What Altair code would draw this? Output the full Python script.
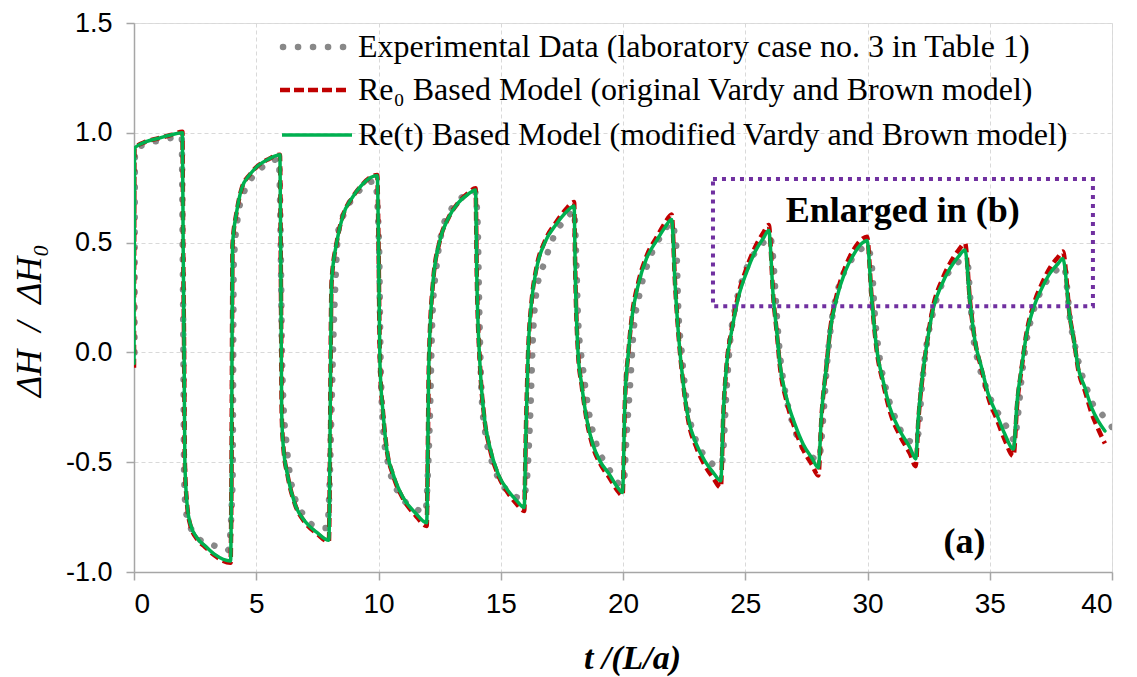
import altair as alt
import pandas as pd

# ---------------- data ----------------
# time axis t/(L/a) shared by the two model curves
T_MODEL = [
    0.0, 0.02, 0.5, 1.0, 1.5, 1.98,
    2.01, 2.05, 2.08, 2.17, 2.3, 2.58, 2.9, 3.3, 3.95,
    3.99, 4.03, 4.2, 4.4, 4.74, 5.07, 5.5, 5.97,
    6.01, 6.04, 6.1, 6.3, 6.58, 7.0, 7.48, 7.97,
    8.08, 8.29, 8.55, 8.9, 9.3, 9.95,
    10.0, 10.06, 10.19, 10.33, 10.6, 11.0, 11.5, 11.97,
    12.06, 12.23, 12.5, 12.85, 13.25, 13.66, 13.97,
    14.02, 14.15, 14.31, 14.56, 14.9, 15.3, 15.65, 15.96,
    16.02, 16.12, 16.26, 16.46, 16.8, 17.28, 17.69, 18.0,
    18.05, 18.16, 18.31, 18.51, 18.77, 19.06, 19.47, 19.78, 19.98,
    20.08, 20.22, 20.36, 20.63, 20.97, 21.38, 21.72, 21.99,
    22.13, 22.27, 22.47, 22.67, 23.01, 23.35, 23.69, 24.0,
    24.1, 24.24, 24.44, 24.71, 25.06, 25.4, 25.74, 25.96,
    26.15, 26.29, 26.42, 26.69, 27.03, 27.37, 27.72, 27.99,
    28.12, 28.33, 28.47, 28.74, 29.08, 29.42, 29.76, 29.98,
    30.17, 30.37, 30.64, 30.92, 31.33, 31.74, 31.97,
    32.08, 32.29, 32.49, 32.69, 33.03, 33.37, 33.72, 33.99,
    34.19, 34.4, 34.67, 34.94, 35.29, 35.62, 35.97,
    36.12, 36.3, 36.5, 36.78, 37.12, 37.46, 37.8, 37.99,
    38.28, 38.45, 38.62, 38.9, 39.17, 39.44, 39.71,
]

# Re0 based model (original Vardy and Brown model) - red dashed
H_RE0 = [
    -0.07, 0.93, 0.96, 0.975, 0.99, 1.005,
    0.5, 0.0, -0.5, -0.69, -0.785, -0.85, -0.885, -0.925, -0.958,
    -0.5, 0.49, 0.64, 0.745, 0.81, 0.85, 0.88, 0.9,
    0.3, -0.27, -0.42, -0.57, -0.69, -0.775, -0.825, -0.862,
    0.32, 0.50, 0.625, 0.70, 0.76, 0.808,
    0.5, -0.055, -0.28, -0.435, -0.56, -0.665, -0.74, -0.79,
    -0.055, 0.32, 0.505, 0.61, 0.68, 0.725, 0.748,
    0.35, -0.055, -0.28, -0.44, -0.56, -0.64, -0.69, -0.722,
    -0.4, 0.0, 0.23, 0.385, 0.505, 0.595, 0.655, 0.685,
    0.35, 0.0, -0.15, -0.305, -0.43, -0.505, -0.575, -0.63, -0.652,
    -0.22, 0.0, 0.16, 0.32, 0.44, 0.525, 0.59, 0.628,
    0.31, 0.08, -0.15, -0.31, -0.435, -0.515, -0.572, -0.615,
    -0.29, -0.055, 0.1, 0.258, 0.385, 0.478, 0.545, 0.58,
    0.246, 0.09, -0.065, -0.222, -0.348, -0.443, -0.51, -0.56,
    -0.29, -0.055, 0.1, 0.26, 0.385, 0.465, 0.515, 0.527,
    0.246, 0.015, -0.14, -0.27, -0.38, -0.462, -0.518,
    -0.31, -0.075, 0.085, 0.212, 0.325, 0.405, 0.465, 0.497,
    0.235, 0.05, -0.078, -0.205, -0.305, -0.4, -0.472,
    -0.235, -0.075, 0.085, 0.212, 0.31, 0.385, 0.435, 0.46,
    0.16, 0.05, -0.078, -0.178, -0.278, -0.35, -0.415,
]

# Re(t) based model (modified Vardy and Brown model) - green solid
H_RET = [
    -0.05, 0.93, 0.96, 0.975, 0.99, 1.0,
    0.5, 0.0, -0.5, -0.69, -0.78, -0.845, -0.88, -0.92, -0.95,
    -0.5, 0.49, 0.64, 0.745, 0.81, 0.85, 0.88, 0.9,
    0.3, -0.27, -0.42, -0.57, -0.69, -0.77, -0.82, -0.855,
    0.32, 0.50, 0.625, 0.70, 0.76, 0.805,
    0.5, -0.055, -0.28, -0.435, -0.555, -0.66, -0.73, -0.776,
    -0.055, 0.32, 0.505, 0.61, 0.68, 0.72, 0.74,
    0.35, -0.055, -0.28, -0.434, -0.555, -0.63, -0.675, -0.706,
    -0.4, 0.0, 0.23, 0.38, 0.50, 0.585, 0.64, 0.667,
    0.35, 0.0, -0.147, -0.30, -0.42, -0.495, -0.56, -0.615, -0.638,
    -0.22, 0.0, 0.155, 0.31, 0.43, 0.51, 0.57, 0.605,
    0.31, 0.08, -0.147, -0.30, -0.42, -0.495, -0.547, -0.585,
    -0.28, -0.055, 0.095, 0.246, 0.367, 0.458, 0.52, 0.555,
    0.246, 0.095, -0.055, -0.207, -0.327, -0.418, -0.48, -0.525,
    -0.28, -0.055, 0.095, 0.246, 0.367, 0.443, 0.496, 0.51,
    0.246, 0.02, -0.13, -0.253, -0.358, -0.434, -0.485,
    -0.298, -0.071, 0.08, 0.2, 0.307, 0.382, 0.436, 0.466,
    0.231, 0.05, -0.071, -0.19, -0.283, -0.373, -0.44,
    -0.222, -0.071, 0.08, 0.2, 0.29, 0.36, 0.405, 0.428,
    0.155, 0.05, -0.071, -0.162, -0.253, -0.313, -0.358,
]

# experimental data (laboratory case no. 3) - grey dots
T_EXP = [
    0.02, 0.04, 0.5, 1.06, 1.68, 1.95,
    1.99, 2.02, 2.05, 2.12, 2.29, 2.6, 3.2, 3.85,
    4.03, 4.08, 4.25, 4.5, 4.85, 5.2, 5.6, 5.92,
    6.0, 6.05, 6.1, 6.24, 6.5, 7.0, 7.47, 7.9,
    8.0, 8.08, 8.15, 8.25, 8.35, 8.63, 9.16, 9.86,
    10.02, 10.08, 10.2, 10.4, 10.95, 11.5, 11.92,
    12.02, 12.1, 12.2, 12.38, 12.59, 12.99, 13.54, 13.95,
    14.05, 14.12, 14.22, 14.36, 14.63, 14.97, 15.5, 15.9,
    16.05, 16.2, 16.32, 16.46, 16.8, 17.2, 17.75, 18.0,
    18.1, 18.16, 18.36, 18.65, 18.92, 19.4, 19.9,
    20.02, 20.15, 20.29, 20.42, 20.7, 21.1, 21.58, 22.0,
    22.1, 22.19, 22.25, 22.4, 22.6, 22.95, 23.42, 23.9,
    24.05, 24.24, 24.38, 24.58, 24.85, 25.26, 25.67, 26.0,
    26.14, 26.29, 26.42, 26.63, 26.95, 27.36, 27.77, 28.0,
    28.2, 28.33, 28.53, 28.8, 29.22, 29.62, 29.98,
    30.17, 30.3, 30.5, 30.78, 31.19, 31.6, 31.95,
    32.08, 32.22, 32.42, 32.69, 33.03, 33.44, 33.92,
    34.1, 34.19, 34.32, 34.52, 34.81, 35.14, 35.55, 35.85,
    36.0, 36.16, 36.3, 36.5, 36.78, 37.19, 37.6, 37.95,
    38.05, 38.15, 38.28, 38.48, 38.69, 38.96, 39.23, 39.5, 39.85, 40.0,
]
H_EXP = [
    0.0, 0.92, 0.95, 0.965, 0.98, 0.985,
    0.5, 0.0, -0.55, -0.72, -0.79, -0.845, -0.876, -0.9,
    -0.6, 0.4, 0.62, 0.73, 0.8, 0.84, 0.87, 0.88,
    0.5, 0.0, -0.2, -0.42, -0.63, -0.75, -0.795, -0.8,
    -0.6, -0.25, 0.05, 0.35, 0.55, 0.64, 0.73, 0.78,
    0.5, 0.0, -0.36, -0.51, -0.66, -0.71, -0.73,
    -0.55, -0.3, 0.15, 0.4, 0.55, 0.655, 0.715, 0.73,
    0.6, 0.2, -0.2, -0.36, -0.495, -0.585, -0.65, -0.665,
    -0.6, -0.3, 0.08, 0.277, 0.413, 0.535, 0.617, 0.645,
    0.38, 0.155, -0.07, -0.3, -0.42, -0.525, -0.6,
    -0.6, -0.37, -0.147, 0.08, 0.277, 0.43, 0.535, 0.59,
    0.55, 0.46, 0.23, 0.0, -0.22, -0.39, -0.48, -0.52,
    -0.5, -0.162, 0.05, 0.2, 0.32, 0.43, 0.49, 0.53,
    0.43, 0.17, -0.01, -0.177, -0.327, -0.434, -0.48, -0.49,
    -0.28, -0.071, 0.14, 0.29, 0.4, 0.458, 0.485,
    0.4, 0.17, -0.026, -0.177, -0.313, -0.396, -0.41,
    -0.37, -0.16, 0.035, 0.186, 0.307, 0.382, 0.42,
    0.40, 0.262, 0.08, -0.04, -0.147, -0.238, -0.313, -0.37,
    -0.4, -0.28, -0.117, 0.05, 0.186, 0.3, 0.36, 0.39,
    0.39, 0.307, 0.155, 0.035, -0.07, -0.162, -0.238, -0.27, -0.32, -0.34,
]

X_TICKS = [0, 5, 10, 15, 20, 25, 30, 35, 40]
Y_TICKS = [-1.0, -0.5, 0.0, 0.5, 1.0, 1.5]

LEGEND_LABELS = [
    "Experimental Data (laboratory case no. 3 in Table 1)",
    "Re\u2080 Based Model (original Vardy and Brown model)",
    "Re(t) Based Model (modified Vardy and Brown model)",
]

BOX_T = [23.68, 39.22]
BOX_H = [0.21, 0.79]
NOTE_T = [31.44, 33.97]
NOTE_H = [0.642, -0.863]
NOTE_TEXT = ["Enlarged in (b)", "(a)"]

assert len(T_MODEL) == len(H_RE0) == len(H_RET)
assert len(T_EXP) == len(H_EXP)

# ---------------- chart ----------------
W, H = 978, 549
GREY_AX = "#A6A6A6"
SERIF = "Liberation Serif"
SANS = "Liberation Sans"
NB = "\u00a0"

xs = alt.Scale(domain=[0, 40], nice=False, zero=False)
ys = alt.Scale(domain=[-1.0, 1.5], nice=False, zero=False)

x_axis = alt.Axis(
    values=X_TICKS, format="d", title="t /(L/a)",
    grid=True, gridDash=[4, 3], gridColor="#D9D9D9", gridWidth=1,
    domainColor=GREY_AX, domainWidth=1.5, tickColor=GREY_AX, tickWidth=1.5, tickSize=8,
    labelFont=SANS, labelFontSize=28, labelColor="#000000", labelPadding=10,
    titleFont=SERIF, titleFontSize=34, titleFontStyle="italic", titleFontWeight="bold",
    titleColor="#000000", titleX=498, titleY=86, titleAlign="center", titleBaseline="middle",
)
y_axis = alt.Axis(
    values=Y_TICKS, title=f"\u0394H{NB}{NB}/{NB}{NB}\u0394H\u2080",
    labelExpr="replace(format(datum.value, '.1f'), '\u2212', '-')",
    grid=True, gridDash=[4, 3], gridColor="#D9D9D9", gridWidth=1,
    domainColor=GREY_AX, domainWidth=1.5, tickColor=GREY_AX, tickWidth=1.5, tickSize=8,
    labelFont=SANS, labelFontSize=27, labelColor="#000000", labelPadding=14,
    titleFont=SERIF, titleFontSize=36, titleFontStyle="italic", titleFontWeight="normal",
    titleColor="#000000", titleX=-105, titleY=297, titleAngle=270,
    titleAlign="center", titleBaseline="middle",
)

X = alt.X("t:Q", scale=xs, axis=x_axis)
Y = alt.Y("h:Q", scale=ys, axis=y_axis)

df_exp = pd.DataFrame({"t": T_EXP, "h": H_EXP})
df_re0 = pd.DataFrame({"t": T_MODEL, "h": H_RE0})
df_ret = pd.DataFrame({"t": T_MODEL, "h": H_RET})

exp_line = alt.Chart(df_exp).mark_line(
    color="#888888", strokeWidth=6.5, strokeDash=[0.1, 14.9], strokeCap="round",
    interpolate="monotone", clip=True,
).encode(x=X, y=Y)

re0_line = alt.Chart(df_re0).mark_line(
    color="#C00000", strokeWidth=4.5, strokeDash=[9, 5], strokeCap="butt",
    interpolate="monotone", clip=True,
).encode(x=X, y=Y)

ret_line = alt.Chart(df_ret).mark_line(
    color="#00B050", strokeWidth=3.5, strokeCap="round", strokeJoin="round",
    interpolate="monotone", clip=True,
).encode(x=X, y=Y)

df_box = pd.DataFrame({"t": [BOX_T[0]], "t2": [BOX_T[1]], "h": [BOX_H[0]], "h2": [BOX_H[1]]})
box = alt.Chart(df_box).mark_rect(
    fillOpacity=0, stroke="#7030A0", strokeWidth=4, strokeDash=[4, 5],
).encode(x=X, x2="t2:Q", y=Y, y2="h2:Q")

df_note = pd.DataFrame({"t": NOTE_T, "h": NOTE_H, "label": NOTE_TEXT})
notes = alt.Chart(df_note).mark_text(
    font=SERIF, fontSize=36, fontWeight="bold", color="#000000",
    align="center", baseline="middle",
).encode(x=X, y=Y, text="label:N")

# legend (inside the plot, top right)
one = pd.DataFrame({"k": [0]})
leg_rows = [24, 67, 112]
leg_syms = [
    dict(color="#888888", strokeWidth=6.5, strokeDash=[0.1, 14.9], strokeCap="round", x1=149, x2=210),
    dict(color="#C00000", strokeWidth=4.5, strokeDash=[10, 4], strokeCap="butt", x1=146, x2=214),
    dict(color="#00B050", strokeWidth=3.5, strokeCap="butt", x1=148, x2=218),
]
legend_layers = []
for yy, sym, lab in zip(leg_rows, leg_syms, LEGEND_LABELS):
    x1, x2 = sym.pop("x1"), sym.pop("x2")
    legend_layers.append(
        alt.Chart(one).mark_rule(**sym).encode(
            x=alt.value(x1), x2=alt.value(x2), y=alt.value(yy)
        )
    )
    legend_layers.append(
        alt.Chart(one).mark_text(
            font=SERIF, fontSize=32, color="#000000", align="left", baseline="middle"
        ).encode(x=alt.value(224), y=alt.value(yy), text=alt.value(lab))
    )

chart = alt.layer(
    exp_line, re0_line, ret_line, box, notes, *legend_layers
).properties(
    width=W, height=H,
    autosize=alt.AutoSizeParams(type="none"),
    padding={"left": 126, "top": 15, "right": 17, "bottom": 105},
).configure_view(
    stroke=GREY_AX, strokeWidth=1.5
).configure(background="white")

chart.save("out.html", embed_options={"renderer": "svg", "actions": False})
